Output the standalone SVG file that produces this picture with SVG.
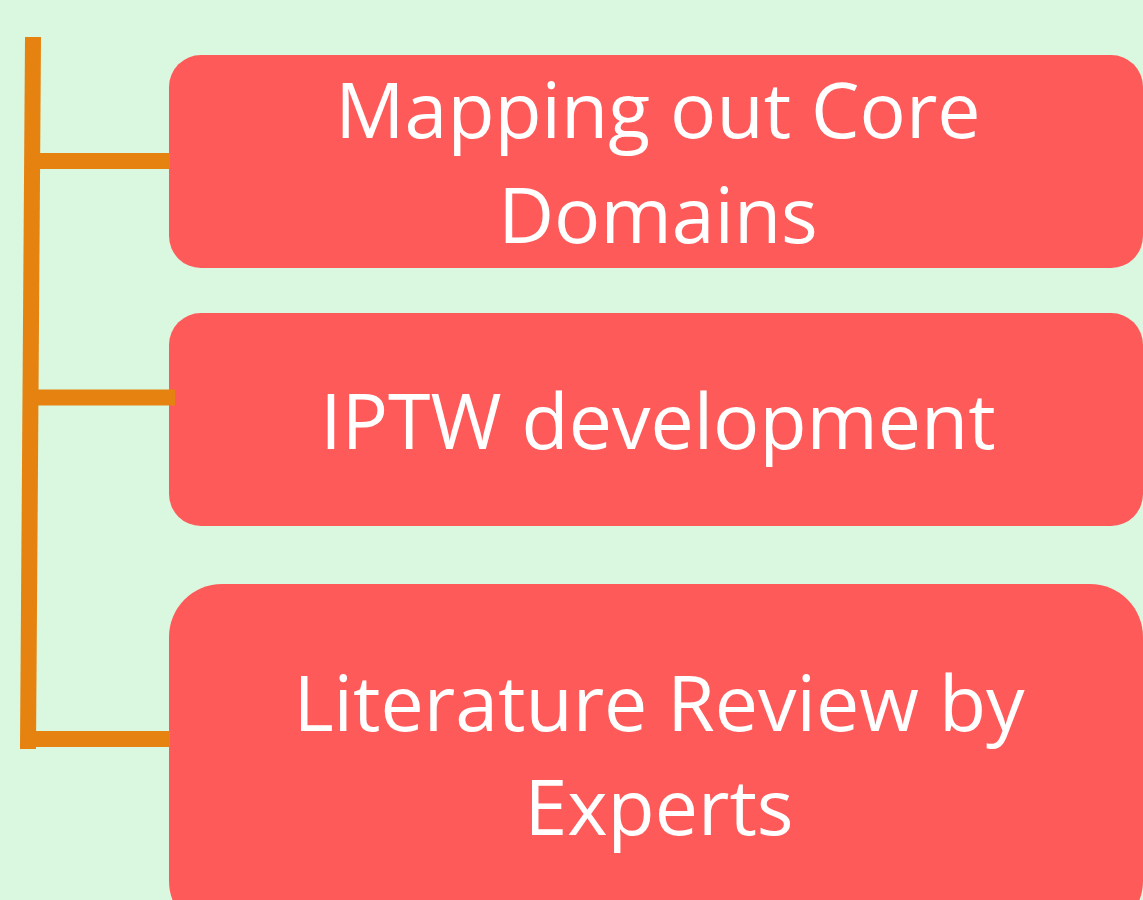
<svg xmlns="http://www.w3.org/2000/svg" width="1143" height="900" viewBox="0 0 1143 900">
  <style>
    .box { fill: #ff5a5a; }
    .conn { stroke: #e58210; stroke-width: 16; fill: none; stroke-linecap: butt; }
    .lbl { fill: #ffffff; font-family: "Open Sans", "Liberation Sans", sans-serif; font-size: 77px; text-anchor: middle; }
  </style>
  <rect x="0" y="0" width="1143" height="900" fill="#daf8df"/>
  <g id="node1">
    <rect class="box" x="169" y="55" width="974" height="213" rx="32" ry="32"/>
    <text class="lbl" x="658" y="138">Mapping out Core</text>
    <text class="lbl" x="658" y="243">Domains</text>
  </g>
  <g id="node2">
    <rect class="box" x="169" y="313" width="974" height="213" rx="32" ry="32"/>
    <text class="lbl" x="658" y="449">IPTW development</text>
  </g>
  <g id="node3">
    <rect class="box" x="169" y="584" width="974" height="350" rx="53" ry="53"/>
    <text class="lbl" x="659" y="731">Literature Review by</text>
    <text class="lbl" x="659" y="835">Experts</text>
  </g>
  <g id="connectors">
    <line class="conn" x1="33" y1="37" x2="28" y2="749"/>
    <line class="conn" x1="36" y1="161" x2="170" y2="161"/>
    <line class="conn" x1="34" y1="397.5" x2="175" y2="397.5"/>
    <line class="conn" x1="32" y1="739" x2="170" y2="739"/>
  </g>
</svg>
